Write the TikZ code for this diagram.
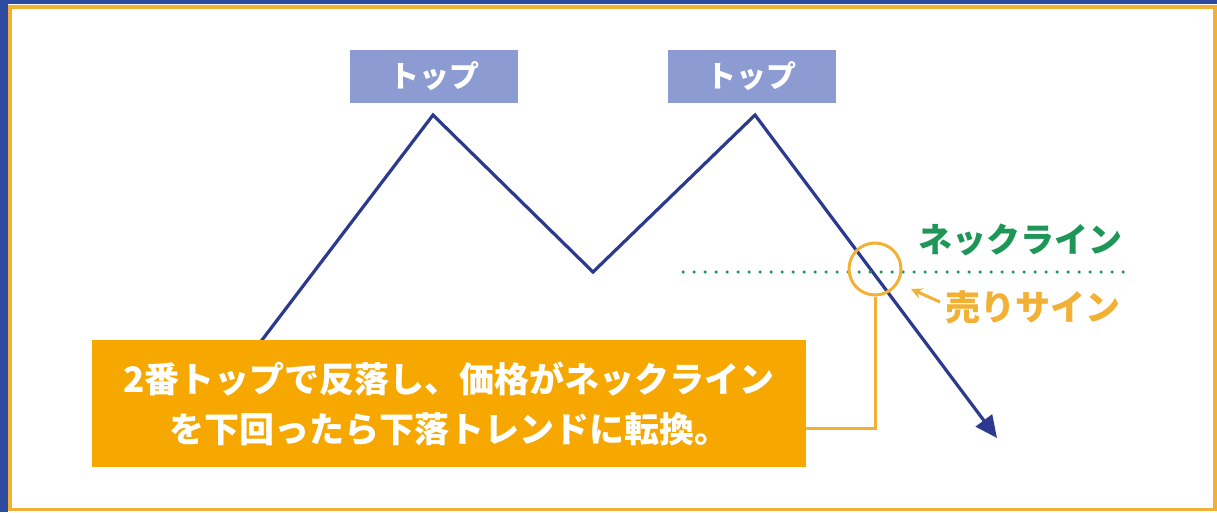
\documentclass[tikz,border=0pt]{standalone}
\usepackage{fontspec}
\newfontfamily\jp{Noto Sans CJK JP}
\usepackage{xcolor}
\usepackage{tikz}
\usetikzlibrary{arrows.meta}
\definecolor{chartblue}{HTML}{2B3A8F}
\definecolor{framblue}{HTML}{2E4A9E}
\definecolor{tagblue}{HTML}{8C9BD1}
\definecolor{noteorange}{HTML}{F6A800}
\definecolor{signorange}{HTML}{F2B035}
\definecolor{neckgreen}{HTML}{1E9657}
\tikzstyle{topbox} = [fill=tagblue,text=white,minimum width=168pt,minimum height=53pt,inner sep=0pt,font={\jp\bfseries\fontsize{30}{30}\selectfont}]
\tikzstyle{pricearrow} = [chartblue,line width=3.2pt,line join=miter,-{Triangle[length=22pt,width=20pt]}]

\begin{document}
\begin{tikzpicture}[x=1pt,y=-1pt]
    \useasboundingbox (0,0) rectangle (1217,512);
    % frame
    \fill[framblue] (0,0) rectangle (1217,4);
    \fill[framblue] (0,0) rectangle (8,512);
    \draw[signorange,line width=3.5pt,fill=white] (10,7) rectangle (1215,509.5);

    % price path
    \coordinate (start) at (240,369);
    \coordinate (peak1) at (433,115);
    \coordinate (dip) at (593,272);
    \coordinate (peak2) at (755,115);
    \coordinate (tip) at (997,438);
    \draw[pricearrow] (start) -- (peak1) -- (dip) -- (peak2) -- (tip);

    \node[topbox] (top1) at (434,76.5) {トップ};
    \node[topbox] (top2) at (751.5,76.5) {トップ};

    % neckline
    \coordinate (neckL) at (683,272);
    \coordinate (neckR) at (1126,272);
    \draw[neckgreen,line width=3.5pt,line cap=round,dash pattern=on 0pt off 11pt] (neckL) -- (neckR);
    \node[neckgreen,font={\jp\bfseries\fontsize{34}{34}\selectfont},inner sep=0pt] (necktxt) at (1020,240) {ネックライン};

    % sell signal
    \node[draw=signorange,line width=3pt,circle,minimum size=52pt,inner sep=0pt] (sig) at (875,269) {};
    \node[signorange,font={\jp\bfseries\fontsize{35}{35}\selectfont},inner sep=0pt,anchor=west] (selltxt) at (945,307) {売りサイン};
    \coordinate (hint) at (940,302);
    \coordinate (hintend) at (911,289);
    \draw[signorange,line width=3pt,-{Stealth[length=11pt,width=11pt]}] (hint) -- (hintend);

    % note box
    \node[fill=noteorange,text=white,minimum width=714pt,minimum height=127pt,inner sep=0pt,align=center,
          font={\jp\bfseries\fontsize{35}{50}\selectfont}] (note) at (449,403.5)
          {2番トップで反落し、価格がネックライン\\を下回ったら下落トレンドに転換。};
    \coordinate (bend) at (875,428);
    \draw[signorange,line width=3pt] (sig.south) -- (bend) -- (bend -| note.east);
\end{tikzpicture}
\end{document}
